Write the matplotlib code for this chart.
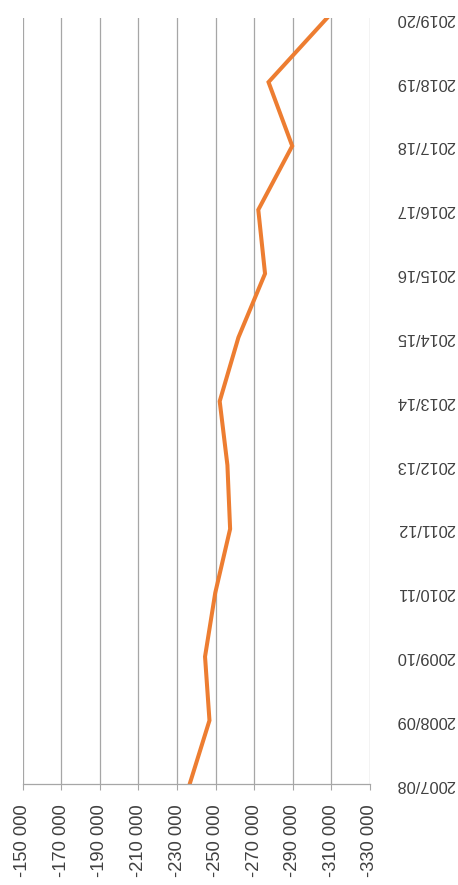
import matplotlib
matplotlib.use('Agg')
import matplotlib.pyplot as plt
import numpy as np

years = ['2007/08', '2008/09', '2009/10', '2010/11', '2011/12', '2012/13', '2013/14',
         '2014/15', '2015/16', '2016/17', '2017/18', '2018/19', '2019/20']
values = [-236500, -246800, -244500, -249800, -257500, -256100, -252100,
          -261800, -275600, -272100, -289700, -277400, -307600]
value_ticks = list(range(-150000, -330001, -20000))

plt.rcParams['font.family'] = ['Liberation Sans', 'DejaVu Sans']

fig = plt.figure(figsize=(4.58, 8.85), dpi=100)
ax = fig.add_axes([22.7 / 458, 1 - 784.3 / 885, (370 - 22.7) / 458, (784.3 - 18.3) / 885])

pos = np.arange(len(years))
ax.plot(values, pos, color='#ED7D31', linewidth=2.9, solid_joinstyle='miter')

ax.set_xlim(-150000, -330000)
ax.set_ylim(0, len(years) - 1)
ax.set_xticks(value_ticks)
ax.set_xticklabels([('%d' % v)[:-3] + ' 000' for v in value_ticks], rotation=90,
                   fontsize=13.2, color='#404040')
ax.tick_params(axis='x', length=4.3, width=0.8, color='#A6A6A6', pad=10)

# category labels upside down, right edge lined up
ax.yaxis.tick_right()
ax.set_yticks(pos)
ax.set_yticklabels(years, rotation=180, fontsize=11.8, color='#404040',
                   va='center', ha='right')
ax.tick_params(axis='y', length=0, pad=61)

ax.grid(axis='x', color='#A6A6A6', linewidth=0.9)
ax.set_axisbelow(True)
for s in ['top', 'left', 'right']:
    ax.spines[s].set_visible(False)
ax.spines['bottom'].set_color('#A6A6A6')
ax.spines['bottom'].set_linewidth(0.9)

fig.savefig('out.png', dpi=100)
